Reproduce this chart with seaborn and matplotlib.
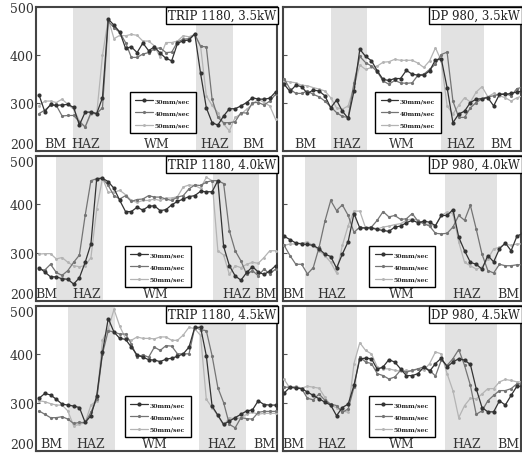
import numpy as np
import pandas as pd
import matplotlib
matplotlib.use("Agg")
import matplotlib.pyplot as plt
import seaborn as sns

# ---------------- data ----------------
speeds = ["30mm/sec", "40mm/sec", "50mm/sec"]
titles = ["TRIP 1180, 3.5kW", "DP 980, 3.5kW",
          "TRIP 1180, 4.0kW", "DP 980, 4.0kW",
          "TRIP 1180, 4.5kW", "DP 980, 4.5kW"]
zone_names = ["BM", "HAZ", "WM", "HAZ", "BM"]

trip35_30 = [317, 282, 297, 295, 296, 297, 291, 254, 281, 281, 278, 311, 475, 462, 448, 414, 417, 405, 425, 409, 417, 404, 393, 388, 424, 430, 431, 444, 362, 290, 259, 254, 273, 288, 288, 294, 301, 311, 308, 308, 310, 323]
trip35_40 = [278, 285, 295, 295, 273, 274, 274, 261, 250, 280, 278, 290, 470, 457, 447, 426, 395, 395, 402, 405, 413, 415, 405, 406, 427, 433, 434, 443, 418, 417, 308, 270, 259, 259, 261, 280, 279, 301, 301, 296, 304, 318]
trip35_50 = [294, 304, 304, 301, 308, 297, 287, 263, 250, 277, 277, 399, 475, 434, 441, 440, 443, 441, 429, 429, 419, 395, 426, 426, 429, 440, 438, 443, 419, 315, 295, 280, 256, 242, 270, 277, 287, 297, 308, 301, 294, 266]

dp35_30 = [339, 324, 337, 334, 320, 327, 325, 315, 290, 306, 283, 268, 325, 412, 397, 388, 367, 349, 347, 351, 351, 368, 360, 358, 358, 367, 390, 392, 332, 259, 277, 283, 301, 308, 309, 311, 294, 318, 318, 320, 323, 325]
dp35_40 = [351, 329, 320, 320, 325, 318, 313, 304, 292, 280, 272, 270, 342, 397, 384, 377, 365, 346, 339, 347, 342, 341, 342, 358, 360, 370, 381, 401, 406, 304, 270, 270, 290, 301, 309, 313, 315, 318, 320, 315, 330, 333]
dp35_50 = [346, 344, 342, 337, 336, 332, 329, 325, 311, 290, 287, 294, 334, 379, 370, 374, 377, 385, 386, 391, 389, 389, 389, 383, 374, 388, 415, 388, 294, 277, 295, 311, 302, 323, 334, 313, 320, 315, 311, 304, 311, 315]

trip40_30 = [269, 260, 250, 250, 246, 245, 235, 248, 280, 318, 453, 454, 447, 433, 408, 385, 385, 394, 388, 396, 397, 387, 389, 399, 406, 411, 416, 418, 427, 426, 426, 449, 313, 273, 252, 243, 259, 271, 260, 255, 262, 273]
trip40_40 = [266, 264, 276, 259, 253, 263, 280, 295, 377, 449, 453, 454, 439, 418, 411, 418, 406, 410, 411, 418, 415, 415, 411, 408, 415, 418, 432, 440, 439, 446, 449, 449, 443, 345, 304, 283, 255, 263, 252, 266, 256, 266]
trip40_50 = [297, 298, 298, 287, 290, 280, 273, 271, 273, 290, 390, 454, 425, 425, 429, 420, 408, 404, 408, 408, 411, 408, 413, 413, 416, 436, 440, 439, 433, 456, 449, 304, 295, 255, 273, 269, 276, 280, 278, 290, 304, 304]

dp40_30 = [334, 327, 320, 318, 317, 315, 308, 297, 292, 268, 297, 323, 381, 351, 351, 351, 348, 346, 344, 353, 355, 362, 367, 362, 365, 363, 356, 377, 377, 389, 332, 304, 280, 276, 266, 294, 281, 308, 320, 304, 334, 340]
dp40_40 = [315, 294, 276, 276, 256, 269, 311, 365, 408, 387, 399, 377, 342, 353, 351, 353, 367, 385, 374, 377, 369, 370, 381, 365, 360, 355, 340, 339, 340, 353, 377, 367, 398, 349, 297, 263, 258, 276, 273, 273, 275, 275]
dp40_50 = [315, 318, 318, 320, 322, 315, 304, 294, 280, 258, 315, 356, 386, 386, 351, 353, 349, 353, 355, 358, 360, 367, 370, 367, 360, 358, 356, 377, 384, 381, 322, 280, 273, 266, 270, 287, 308, 311, 318, 315, 318, 318]

trip45_30 = [309, 319, 316, 307, 297, 295, 293, 290, 259, 273, 314, 404, 474, 446, 433, 431, 415, 399, 394, 389, 388, 385, 390, 392, 396, 401, 415, 456, 456, 397, 293, 274, 255, 262, 269, 276, 283, 285, 304, 296, 295, 295]
trip45_40 = [283, 276, 269, 269, 271, 266, 257, 259, 259, 280, 307, 401, 449, 446, 442, 442, 422, 394, 399, 394, 415, 408, 418, 417, 401, 401, 401, 456, 451, 449, 397, 331, 300, 255, 248, 269, 267, 266, 280, 282, 282, 282]
trip45_50 = [304, 302, 298, 295, 295, 283, 252, 255, 259, 295, 304, 429, 453, 493, 458, 433, 429, 436, 433, 433, 432, 436, 436, 429, 429, 440, 456, 453, 439, 307, 290, 273, 253, 269, 266, 269, 276, 280, 276, 278, 278, 278]

dp45_30 = [320, 332, 330, 329, 322, 315, 308, 301, 295, 273, 290, 297, 336, 391, 392, 391, 369, 374, 389, 384, 370, 356, 356, 360, 374, 365, 381, 392, 374, 384, 391, 388, 379, 329, 290, 281, 281, 304, 295, 315, 334, 334]
dp45_40 = [332, 332, 332, 329, 309, 306, 318, 305, 297, 294, 280, 287, 332, 395, 384, 381, 360, 356, 349, 353, 367, 363, 367, 370, 374, 367, 355, 388, 377, 391, 410, 377, 336, 276, 283, 304, 315, 325, 325, 329, 339, 339]
dp45_50 = [348, 330, 334, 330, 334, 332, 330, 311, 294, 290, 283, 280, 381, 424, 408, 401, 374, 370, 370, 367, 365, 367, 365, 370, 367, 381, 405, 401, 360, 325, 269, 294, 309, 308, 318, 329, 329, 343, 348, 346, 343, 343]

# HAZ bands (measurement index) and zone label positions per panel
haz_bands = [[(5.9, 12.3), (27.2, 33.6)], [(8.0, 14.3), (27.0, 34.3)],
             [(3.0, 11.1), (30.1, 38.2)], [(3.6, 12.6), (27.6, 36.5)],
             [(5.1, 13.2), (27.7, 35.9)], [(3.8, 12.6), (27.7, 36.5)]]
zone_pos = [[2.8, 8.0, 20.4, 30.4, 37.2], [3.7, 10.7, 20.3, 30.4, 37.4],
            [1.2, 8.2, 20.3, 34.2, 39.2], [1.5, 8.1, 20.3, 31.3, 38.5],
            [2.2, 9.0, 20.1, 31.7, 39.0], [1.5, 8.1, 20.3, 31.3, 38.5]]

panel_series = [(trip35_30, trip35_40, trip35_50), (dp35_30, dp35_40, dp35_50),
                (trip40_30, trip40_40, trip40_50), (dp40_30, dp40_40, dp40_50),
                (trip45_30, trip45_40, trip45_50), (dp45_30, dp45_40, dp45_50)]

# ---------------- style ----------------
sns.set_theme(style="white")
plt.rcParams["font.family"] = ["DejaVu Serif"]

colors = ["#333333", "#747474", "#b4b4b4"]
msizes = [3.0, 2.3, 2.1]

W, H = 522, 456
fig = plt.figure(figsize=(W / 100, H / 100), dpi=100)
col_px = [(36, 277), (283, 521)]
row_px = [(8, 152), (157, 302), (307, 452)]
xlims = [(-0.52, 41.25), (-0.2, 40.7)]
leg_centers = [(0.525, 0.265), (0.525, 0.265), (0.505, 0.235),
               (0.50, 0.235), (0.505, 0.235), (0.50, 0.235)]

for k in range(6):
    r, c = divmod(k, 2)
    x0, x1 = col_px[c]
    y0, y1 = row_px[r]
    ax = fig.add_axes([x0 / W, 1 - y1 / H, (x1 - x0) / W, (y1 - y0) / H])
    for a, b in haz_bands[k]:
        ax.axvspan(a, b, color="#e2e2e2", lw=0, zorder=0)
    for s, vals in enumerate(panel_series[k]):
        df = pd.DataFrame({"pos": np.arange(len(vals)), "hv": vals})
        sns.lineplot(data=df, x="pos", y="hv", ax=ax, color=colors[s],
                     marker="o", markersize=msizes[s], markeredgewidth=0,
                     markeredgecolor=colors[s], linewidth=0.9,
                     label=speeds[s], zorder=3 - s * 0.1)
    for name, xp in zip(zone_names, zone_pos[k]):
        ax.text(xp, 216, name, ha="center", va="center", fontsize=9,
                color="#333333", zorder=4)
    ax.text(0.996, 0.985, titles[k], transform=ax.transAxes, ha="right",
            va="top", fontsize=8.5, color="#222222", zorder=6,
            bbox=dict(boxstyle="square,pad=0.18", fc="white", ec="black", lw=1.0))
    ax.set_xlim(*xlims[c])
    ax.set_ylim(200, 500)
    ax.set_xticks([])
    ax.set_yticks([200, 300, 400, 500])
    ax.set_xlabel("")
    ax.set_ylabel("")
    ax.tick_params(axis="y", direction="in", length=3, width=0.8,
                   color="#555555", labelsize=9, labelcolor="#333333", pad=1.5,
                   left=True, labelleft=(c == 0))
    ticks = ax.yaxis.get_major_ticks()
    ticks[0].label1.set_va("bottom")
    if r > 0:
        ticks[-1].label1.set_va("top")
    for sp in ax.spines.values():
        sp.set_color("#444444")
        sp.set_linewidth(1.5)
    leg = ax.legend(loc="center", bbox_to_anchor=leg_centers[k],
                    prop={"size": 4.5, "weight": "bold", "family": "DejaVu Serif"},
                    frameon=True, fancybox=False, edgecolor="black",
                    framealpha=1, handlelength=2.8, labelspacing=1.1,
                    borderpad=0.9, handletextpad=0.3)
    leg.get_frame().set_linewidth(1.0)
    leg.set_zorder(7)

fig.savefig("out.png", dpi=100, facecolor="white")
